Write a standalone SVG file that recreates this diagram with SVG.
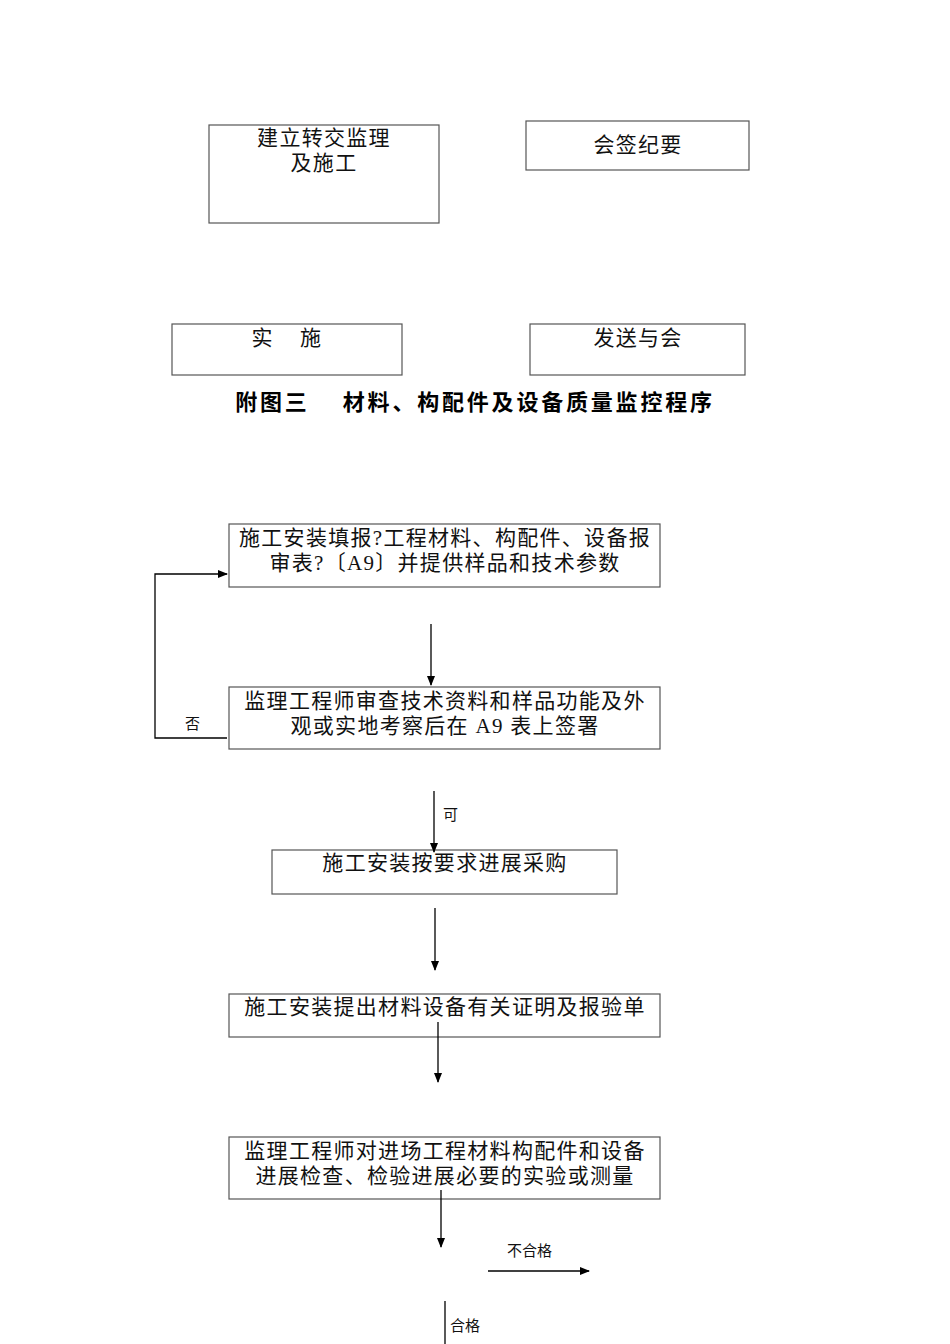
<svg xmlns="http://www.w3.org/2000/svg" width="950" height="1344" viewBox="0 0 950 1344">
<style>
.b{fill:#fff;stroke:#555;stroke-width:1.2}
.t{font-family:"Liberation Serif","Noto Sans CJK SC",serif;font-size:21px;letter-spacing:1.3px;fill:#111;text-anchor:middle;white-space:pre}
.s{font-family:"Liberation Serif","Noto Sans CJK SC",serif;font-size:15px;fill:#111}
.c{stroke:#000;stroke-width:1.3;fill:none}
</style>
<defs><marker id="a" markerWidth="10" markerHeight="10" refX="9" refY="5" orient="auto" markerUnits="userSpaceOnUse"><path d="M0,1 L10,5 L0,9 Z" fill="#000"/></marker></defs>
<rect width="950" height="1344" fill="#fff"/>
<g id="n1"><rect class="b" x="209" y="125" width="230" height="98"/><text class="t" x="324" y="145">建立转交监理</text><text class="t" x="324" y="170">及施工</text></g>
<g id="n2"><rect class="b" x="526" y="121" width="223" height="49"/><text class="t" x="638" y="152">会签纪要</text></g>
<g id="n3"><rect class="b" x="172" y="324" width="230" height="51"/><text class="t" x="287" y="345" xml:space="preserve">实    施</text></g>
<g id="n4"><rect class="b" x="530" y="324" width="215" height="51"/><text class="t" x="638" y="345">发送与会</text></g>
<text x="475" y="410" font-family="'Liberation Serif','Noto Sans CJK SC',serif" font-size="22" font-weight="bold" letter-spacing="2.8" text-anchor="middle" xml:space="preserve" style="white-space:pre">附图三    材料、构配件及设备质量监控程序</text>
<g id="p1"><rect class="b" x="229" y="524" width="431" height="63"/><text class="t" x="445" y="545">施工安装填报?工程材料、构配件、设备报</text><text class="t" x="445" y="570">审表?〔A9〕并提供样品和技术参数</text></g>
<g id="p2"><rect class="b" x="229" y="687" width="431" height="62"/><text class="t" x="445" y="708">监理工程师审查技术资料和样品功能及外</text><text class="t" x="445" y="733">观或实地考察后在 A9 表上签署</text></g>
<g id="p3"><rect class="b" x="272" y="850" width="345" height="44"/><text class="t" x="445" y="870">施工安装按要求进展采购</text></g>
<g id="p4"><rect class="b" x="229" y="994" width="431" height="43"/><text class="t" x="445" y="1014">施工安装提出材料设备有关证明及报验单</text></g>
<g id="p5"><rect class="b" x="229" y="1137" width="431" height="62"/><text class="t" x="445" y="1158">监理工程师对进场工程材料构配件和设备</text><text class="t" x="445" y="1183">进展检查、检验进展必要的实验或测量</text></g>
<g id="connectors">
<path class="c" d="M431,624 V685" marker-end="url(#a)"/>
<path class="c" d="M227,738 H155 V574 H227" marker-end="url(#a)"/>
<path class="c" d="M434,791 V852" marker-end="url(#a)"/>
<path class="c" d="M435,908 V970" marker-end="url(#a)"/>
<path class="c" d="M438,1022 V1082" marker-end="url(#a)"/>
<path class="c" d="M441,1190 V1247" marker-end="url(#a)"/>
<path class="c" d="M488,1271 H589" marker-end="url(#a)"/>
<path class="c" d="M445,1301 V1344"/>
<text class="s" x="185" y="729">否</text>
<text class="s" x="443" y="820">可</text>
<text class="s" x="507" y="1256">不合格</text>
<text class="s" x="450" y="1331">合格</text>
</g>
</svg>
